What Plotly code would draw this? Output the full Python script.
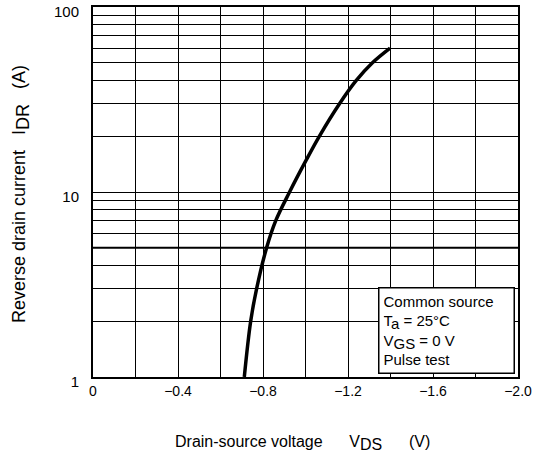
import plotly.graph_objects as go

# ---- data ----
idr = [1.0, 2.0, 3.0, 5.0, 7.0, 10.0, 15.0, 20.0, 30.0, 40.0, 50.0, 60.0]
vds = [-0.712, -0.742, -0.770, -0.817, -0.860, -0.925, -1.005, -1.065,
       -1.160, -1.238, -1.315, -1.398]

x_tickvals = [0, -0.4, -0.8, -1.2, -1.6, -2.0]
x_ticktext = ["0", "\u22120.4", "\u22120.8", "\u22121.2", "\u22121.6", "\u22122.0"]
x_minor = [-0.2, -0.6, -1.0, -1.4, -1.8]
y_tickvals = [1, 10, 100]
y_ticktext = ["1", "10", "100"]
y_minor = [2, 3, 4, 5, 6, 7, 8, 9, 20, 30, 40, 50, 60, 70, 80, 90]
y_emphasis = [5]

FONT = "Liberation Sans, Arial, sans-serif"
NB = "\u00a0"


def sub(s, size):
    return "<sub><span style='font-size:%dpx'>%s</span></sub>" % (size, s)


fig = go.Figure()
fig.add_trace(go.Scatter(x=vds, y=idr, mode="lines",
                         line=dict(color="black", width=3.5, shape="spline", smoothing=1),
                         showlegend=False, hoverinfo="skip"))

for yv in y_emphasis:
    fig.add_shape(type="line", xref="paper", x0=0, x1=1, yref="y", y0=yv, y1=yv,
                  line=dict(color="black", width=2), layer="below")

fig.update_layout(
    width=536, height=461,
    margin=dict(l=93, r=18, t=7, b=84, autoexpand=False),
    paper_bgcolor="white", plot_bgcolor="white",
    font=dict(family=FONT, color="black", size=14),
    xaxis=dict(range=[0, -2.0], tickmode="array", tickvals=x_tickvals, ticktext=x_ticktext,
               showgrid=True, gridcolor="black", gridwidth=1,
               minor=dict(tickmode="array", tickvals=x_minor, showgrid=True,
                          gridcolor="black", gridwidth=1),
               showline=True, linecolor="black", linewidth=2, mirror=True,
               ticks="", tickfont=dict(size=14), zeroline=False, fixedrange=True,
               automargin=False, ticklabeloverflow="allow"),
    yaxis=dict(type="log", range=[0, 2], tickmode="array", tickvals=y_tickvals,
               ticktext=y_ticktext,
               showgrid=True, gridcolor="black", gridwidth=1,
               minor=dict(tickmode="array", tickvals=y_minor, showgrid=True,
                          gridcolor="black", gridwidth=1),
               showline=True, linecolor="black", linewidth=2, mirror=True,
               ticks="", tickfont=dict(size=15), ticklabelstandoff=9,
               ticklabelshift=5,
               zeroline=False, fixedrange=True, automargin=False,
               ticklabeloverflow="allow"),
)

# conditions box
fig.add_annotation(
    xref="paper", yref="paper", x=(515 - 93) / 425, y=(377 - 374) / 370,
    xanchor="right", yanchor="bottom", showarrow=False, align="left",
    text="Common source<br>T" + sub("a", 15) + " = 25\u00b0C<br>V" + sub("GS", 15)
         + " = 0 V<br>Pulse test",
    font=dict(size=15, family=FONT), bgcolor="white", bordercolor="black",
    borderwidth=1.5, borderpad=4, width=126, height=76,
)

# axis titles
fig.add_annotation(
    xref="paper", yref="paper", x=(302 - 93) / 425, y=(377 - 443) / 370,
    xanchor="center", yanchor="middle", showarrow=False,
    text="Drain-source voltage" + NB * 6 + "V" + sub("DS", 16) + NB * 6 + "(V)",
    font=dict(size=16, family=FONT),
)
fig.add_annotation(
    xref="paper", yref="paper", x=(21 - 93) / 425, y=(377 - 194) / 370,
    xanchor="center", yanchor="middle", showarrow=False, textangle=-90,
    text="Reverse drain current" + NB * 3 + "I" + sub("DR", 18) + NB * 3 + "(A)",
    font=dict(size=18, family=FONT),
)

fig.write_html("out.html", post_script="document.body.style.margin='0';",
               config={"displayModeBar": False})
